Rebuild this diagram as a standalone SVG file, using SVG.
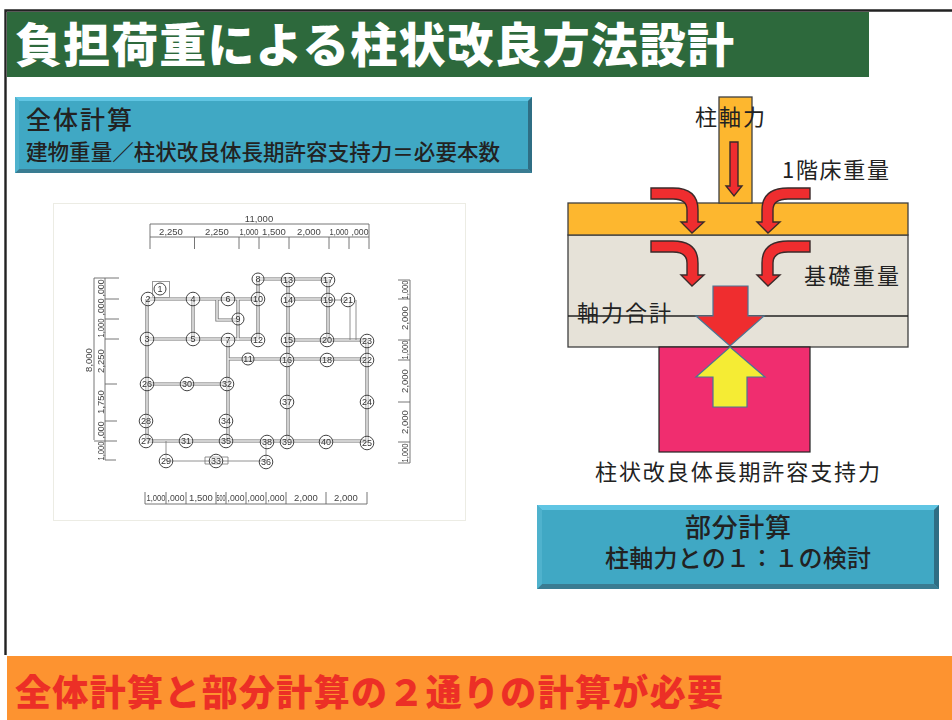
<svg xmlns="http://www.w3.org/2000/svg" width="952" height="720" viewBox="0 0 952 720">
<style>
text{font-family:"Noto Sans CJK JP","Noto Sans CJK SC",sans-serif;fill:#222}
.lab{font-size:22px}
.box1{font-size:25px;font-weight:500}
.box2{font-size:21.5px;font-weight:500}
.d{font-family:"Liberation Sans",sans-serif;font-size:9.5px;fill:#444;text-anchor:middle}
.n{font-family:"Liberation Sans",sans-serif;font-size:9px;fill:#333;text-anchor:middle}
.b circle{fill:#fff;fill-opacity:.35;stroke:#444;stroke-width:1}
.wo{fill:none;stroke:#6e6e6e;stroke-width:3.2}
.wi{fill:none;stroke:#f2f2f2;stroke-width:1.5}
.thin{fill:none;stroke:#777;stroke-width:.8}
.dim{fill:none;stroke:#666;stroke-width:.9}
.red{fill:#ef2d2f;stroke:#3b2a2a;stroke-width:1.4}
.big{stroke:#4a7594;stroke-width:1.2}
.layer{stroke:#3f3f3f;stroke-width:1.300}
</style>
<defs>
<filter id="soft" x="-2%" y="-2%" width="104%" height="104%"><feGaussianBlur stdDeviation="0.3"/></filter>
<path id="walls" d="M148 299H258M258 279V340M258 279H328M288 299H328M288 280V442M328 279V340M147 299V441M193 299V339M147 339H258M288 340H367M367 340V442M228 340V441M228 359H367M147 384H228M147 441H367M217 300V320H238M238 299V340"/>
</defs>
<rect width="952" height="720" fill="#fff"/>
<path d="M5.500 655V10.500H952" fill="none" stroke="#222" stroke-width="2.400"/>

<g id="title">
<rect x="7" y="12" width="862" height="65" fill="#2d693c"/>
<text x="15" y="62" font-size="47" font-weight="900" style="fill:#fff" textLength="719" lengthAdjust="spacing">負担荷重による柱状改良方法設計</text>
</g>

<g id="box-whole">
<rect x="15" y="97" width="517" height="76" fill="#40a8c4"/>
<polygon points="15,97 532,97 528,101 19,101" fill="#60c5e3"/>
<polygon points="532,97 532,173 528,169 528,101" fill="#2f6e84"/>
<polygon points="15,173 532,173 528,169 19,169" fill="#3a7c92"/>
<polygon points="15,97 19,101 19,169 15,173" fill="#4fb2cd"/>
<text class="box1" x="26" y="129" textLength="106" lengthAdjust="spacing">全体計算</text>
<text class="box2" x="26" y="160" textLength="474" lengthAdjust="spacing">建物重量／柱状改良体長期許容支持力＝必要本数</text>
</g>

<g id="plan" filter="url(#soft)">
<rect x="53.500" y="203.500" width="412" height="317" fill="#fff" stroke="#ecece4" stroke-width="1"/>
<g id="dim-top">
<path class="dim" d="M150 224H369M150 237H369M150 224V249M194.500 237V249M239 237V249M259 237V249M289 237V249M329 237V249M349 237V249M369 224V249"/>
<text class="d" x="259" y="222">11,000</text>
<text class="d" x="171" y="235">2,250</text><text class="d" x="217" y="235">2,250</text><text class="d" x="249" y="235" textLength="19" lengthAdjust="spacingAndGlyphs">1,000</text><text class="d" x="274" y="235">1,500</text><text class="d" x="309" y="235">2,000</text><text class="d" x="339" y="235" textLength="19" lengthAdjust="spacingAndGlyphs">1,000</text><text class="d" x="360" y="235" textLength="17" lengthAdjust="spacingAndGlyphs">,000</text>
</g>
<g id="dim-left">
<path class="dim" d="M94 278V440M105 278V460M94 278H119M105 299H119M105 319H119M105 339H119M105 384H117M105 421H117M94 441H117M105 460H116"/>
<text class="d" transform="translate(103.500 288) rotate(-90)" textLength="17" lengthAdjust="spacingAndGlyphs">,000</text>
<text class="d" transform="translate(103.500 307) rotate(-90)" textLength="17" lengthAdjust="spacingAndGlyphs">,000</text>
<text class="d" transform="translate(103.500 328) rotate(-90)" textLength="19" lengthAdjust="spacingAndGlyphs">1,000</text>
<text class="d" transform="translate(103.500 361) rotate(-90)">2,250</text>
<text class="d" transform="translate(103.500 402) rotate(-90)">1,750</text>
<text class="d" transform="translate(103.500 430) rotate(-90)" textLength="17" lengthAdjust="spacingAndGlyphs">,000</text>
<text class="d" transform="translate(103.500 451) rotate(-90)" textLength="19" lengthAdjust="spacingAndGlyphs">1,000</text>
<text class="d" transform="translate(92 360) rotate(-90)">8,000</text>
</g>
<g id="dim-right">
<path class="dim" d="M410 280V463M398 280H410M398 299H410M398 340H410M398 360H410M398 402H410M398 442H410M398 463H410"/>
<text class="d" transform="translate(408 290) rotate(-90)" textLength="19" lengthAdjust="spacingAndGlyphs">1,000</text>
<text class="d" transform="translate(408 318) rotate(-90)">2,000</text>
<text class="d" transform="translate(408 350) rotate(-90)" textLength="19" lengthAdjust="spacingAndGlyphs">1,000</text>
<text class="d" transform="translate(408 381) rotate(-90)">2,000</text>
<text class="d" transform="translate(408 422) rotate(-90)">2,000</text>
<text class="d" transform="translate(408 453) rotate(-90)" textLength="19" lengthAdjust="spacingAndGlyphs">1,000</text>
</g>
<g id="dim-bottom">
<path class="dim" d="M145 504H367M145 492V504M166 492V504M186 492V504M216 492V504M226 492V504M246 492V504M266 492V504M286 492V504M326 492V504M367 492V504"/>
<text class="d" x="156" y="501" textLength="19" lengthAdjust="spacingAndGlyphs">1,000</text><text class="d" x="176" y="501" textLength="17" lengthAdjust="spacingAndGlyphs">,000</text><text class="d" x="201" y="501">1,500</text><text class="d" x="221" y="501" textLength="9" lengthAdjust="spacingAndGlyphs">500</text><text class="d" x="236" y="501" textLength="17" lengthAdjust="spacingAndGlyphs">,000</text><text class="d" x="256" y="501" textLength="17" lengthAdjust="spacingAndGlyphs">,000</text><text class="d" x="276" y="501" textLength="17" lengthAdjust="spacingAndGlyphs">,000</text><text class="d" x="306" y="501">2,000</text><text class="d" x="346" y="501">2,000</text>
</g>
<g id="walls-group">
<use href="#walls" class="wo"/><use href="#walls" class="wi"/>
<path class="thin" d="M166 441V461H266M266 441V461M328 300H348M350 300V340M356 300V340M205 457H228V464H205Z"/>
<rect x="152.500" y="281.500" width="17" height="16" fill="none" stroke="#999"/>
</g>
<g class="b" id="bubbles">
<circle cx="160" cy="289" r="6"/><text class="n" x="160" y="292">1</text>
<circle cx="148" cy="299" r="6.800"/><text class="n" x="148" y="302">2</text>
<circle cx="147" cy="339" r="6.800"/><text class="n" x="147" y="342">3</text>
<circle cx="193" cy="299" r="6.800"/><text class="n" x="193" y="302">4</text>
<circle cx="193" cy="339" r="6.800"/><text class="n" x="193" y="342">5</text>
<circle cx="228" cy="299" r="6.800"/><text class="n" x="228" y="302">6</text>
<circle cx="228" cy="340" r="6.800"/><text class="n" x="228" y="343">7</text>
<circle cx="258" cy="279" r="6"/><text class="n" x="258" y="282">8</text>
<circle cx="238" cy="319" r="6"/><text class="n" x="238" y="322">9</text>
<circle cx="258" cy="299" r="6.800"/><text class="n" x="258" y="302">10</text>
<circle cx="248" cy="359" r="6"/><text class="n" x="248" y="362">11</text>
<circle cx="258" cy="340" r="6.800"/><text class="n" x="258" y="343">12</text>
<circle cx="288" cy="280" r="6.800"/><text class="n" x="288" y="283">13</text>
<circle cx="288" cy="300" r="6.800"/><text class="n" x="288" y="303">14</text>
<circle cx="288" cy="340" r="6.800"/><text class="n" x="288" y="343">15</text>
<circle cx="287" cy="360" r="6.800"/><text class="n" x="287" y="363">16</text>
<circle cx="328" cy="280" r="6.800"/><text class="n" x="328" y="283">17</text>
<circle cx="327" cy="360" r="6.800"/><text class="n" x="327" y="363">18</text>
<circle cx="328" cy="300" r="6.800"/><text class="n" x="328" y="303">19</text>
<circle cx="327" cy="340" r="6.800"/><text class="n" x="327" y="343">20</text>
<circle cx="348" cy="300" r="6.800"/><text class="n" x="348" y="303">21</text>
<circle cx="367" cy="360" r="6.800"/><text class="n" x="367" y="363">22</text>
<circle cx="367" cy="341" r="6.800"/><text class="n" x="367" y="344">23</text>
<circle cx="367" cy="402" r="6.800"/><text class="n" x="367" y="405">24</text>
<circle cx="367" cy="443" r="6.800"/><text class="n" x="367" y="446">25</text>
<circle cx="147" cy="384" r="6.800"/><text class="n" x="147" y="387">26</text>
<circle cx="146" cy="441" r="6.800"/><text class="n" x="146" y="444">27</text>
<circle cx="146" cy="421" r="6.800"/><text class="n" x="146" y="424">28</text>
<circle cx="166" cy="461" r="6.800"/><text class="n" x="166" y="464">29</text>
<circle cx="187" cy="384" r="6.800"/><text class="n" x="187" y="387">30</text>
<circle cx="186" cy="441" r="6.800"/><text class="n" x="186" y="444">31</text>
<circle cx="227" cy="384" r="6.800"/><text class="n" x="227" y="387">32</text>
<circle cx="216" cy="461" r="6.800"/><text class="n" x="216" y="464">33</text>
<circle cx="226" cy="421" r="6.800"/><text class="n" x="226" y="424">34</text>
<circle cx="226" cy="441" r="6.800"/><text class="n" x="226" y="444">35</text>
<circle cx="266" cy="462" r="6.800"/><text class="n" x="266" y="465">36</text>
<circle cx="287" cy="402" r="6.800"/><text class="n" x="287" y="405">37</text>
<circle cx="267" cy="442" r="6.800"/><text class="n" x="267" y="445">38</text>
<circle cx="287" cy="442" r="6.800"/><text class="n" x="287" y="445">39</text>
<circle cx="326" cy="442" r="6.800"/><text class="n" x="326" y="445">40</text>
</g>
</g>

<g id="section">
<rect id="foundation" class="layer" x="568" y="235" width="340" height="112" fill="#e6e2d8"/>
<path d="M568 316H908" stroke="#222" stroke-width="1.300"/>
<rect id="slab" class="layer" x="568" y="203" width="340" height="32" fill="#fdb72f"/>
<rect id="column" class="layer" x="719" y="97" width="33" height="106" fill="#fdb72f"/>
<rect id="pile" x="659" y="347" width="151" height="105" fill="#f02d6f" stroke="#222" stroke-width="1.200"/>
</g>

<g id="connectors">
<polygon class="red" points="730,142 738,142 738,186 742,186 734,196 726,186 730,186"/>
<path id="arrow-l1" class="red" d="M651 188H673C688 188 698 194 698 210V222H704L692 233L681 222H687V210C687 202 682 199 673 199H651Z"/>
<path id="arrow-r1" class="red" d="M810 188H788C772 188 762 194 762 210V222H757L768 233L780 222H773V210C773 202 779 199 788 199H810Z"/>
<path id="arrow-l2" class="red" d="M651 241H673C688 241 698 247 698 263V275H704L692 286L681 275H687V263C687 255 682 252 673 252H651Z"/>
<path id="arrow-r2" class="red" d="M810 241H788C772 241 762 247 762 263V275H757L768 286L780 275H773V263C773 255 779 252 788 252H810Z"/>
<polygon id="arrow-down" class="big" fill="#ef2d2f" points="713,286 748,286 748,316 764,316 730,346 696,316 713,316"/>
<polygon id="arrow-up" class="big" fill="#f5ec34" points="730,347 765,377 747,377 747,407 713,407 713,377 696,377"/>
</g>

<g id="labels">
<text class="lab" x="695" y="125" textLength="70" lengthAdjust="spacing">柱軸力</text>
<text class="lab" x="782" y="178" textLength="107" lengthAdjust="spacing">1階床重量</text>
<text class="lab" x="804" y="284" textLength="95" lengthAdjust="spacing">基礎重量</text>
<text class="lab" x="577" y="321" textLength="94" lengthAdjust="spacing">軸力合計</text>
<text class="lab" x="595" y="480" textLength="285" lengthAdjust="spacing">柱状改良体長期許容支持力</text>
</g>

<g id="box-part">
<rect x="537" y="505" width="402" height="84" fill="#40a8c4"/>
<polygon points="537,505 939,505 934,510 542,510" fill="#60c5e3"/>
<polygon points="939,505 939,589 934,584 934,510" fill="#2f6e84"/>
<polygon points="537,589 939,589 934,584 542,584" fill="#3a7c92"/>
<polygon points="537,505 542,510 542,584 537,589" fill="#4fb2cd"/>
<text x="685" y="537" font-size="26" font-weight="500" textLength="106" lengthAdjust="spacing">部分計算</text>
<text x="605" y="567" font-size="24" font-weight="500" textLength="266" lengthAdjust="spacing">柱軸力との１：１の検討</text>
</g>

<g id="footer">
<rect x="7" y="656" width="945" height="64" fill="#fd9330"/>
<text x="15" y="706" font-size="36" font-weight="900" style="fill:#ec2f26" textLength="708" lengthAdjust="spacing">全体計算と部分計算の２通りの計算が必要</text>
</g>
</svg>
